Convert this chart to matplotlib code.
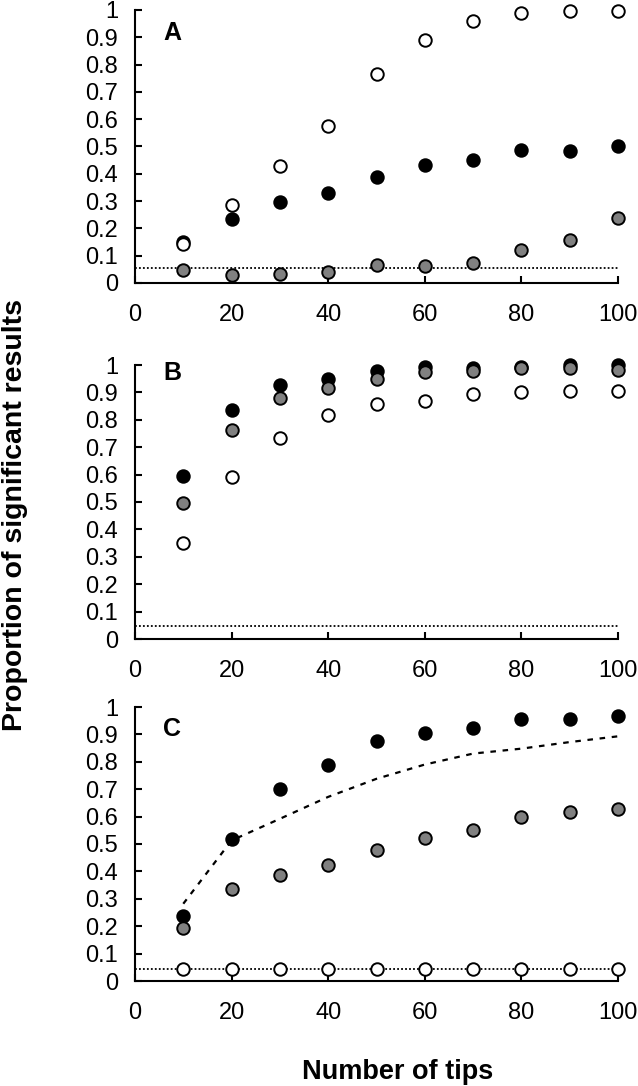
import numpy as np
import matplotlib.pyplot as plt

plt.rcParams['font.family'] = ['Liberation Sans', 'DejaVu Sans']

tips = [10, 20, 30, 40, 50, 60, 70, 80, 90, 100]

# panel A
a_black = [0.152, 0.234, 0.296, 0.329, 0.387, 0.433, 0.449, 0.488, 0.485, 0.500]
a_gray = [0.049, 0.030, 0.033, 0.040, 0.065, 0.061, 0.073, 0.122, 0.159, 0.238]
a_open = [0.143, 0.287, 0.427, 0.576, 0.765, 0.890, 0.960, 0.988, 0.998, 0.998]
a_alpha = 0.054

# panel B
b_black = [0.595, 0.836, 0.927, 0.948, 0.978, 0.992, 0.990, 0.994, 1.000, 1.000]
b_gray = [0.498, 0.763, 0.881, 0.915, 0.948, 0.976, 0.979, 0.990, 0.990, 0.982]
b_open = [0.352, 0.590, 0.733, 0.817, 0.858, 0.870, 0.894, 0.900, 0.905, 0.905]
b_alpha = 0.048

# panel C
c_black = [0.237, 0.520, 0.700, 0.790, 0.876, 0.905, 0.925, 0.955, 0.957, 0.967]
c_gray = [0.195, 0.337, 0.388, 0.423, 0.477, 0.523, 0.550, 0.599, 0.617, 0.628]
c_open = [0.045, 0.045, 0.045, 0.045, 0.045, 0.045, 0.045, 0.045, 0.045, 0.045]
c_curve = [0.282, 0.513, 0.592, 0.672, 0.738, 0.790, 0.830, 0.848, 0.872, 0.893]
c_alpha = 0.045

panels = [
    ('A', a_black, a_gray, a_open, a_alpha, None, 0.916),
    ('B', b_black, b_gray, b_open, b_alpha, None, 0.97),
    ('C', c_black, c_gray, c_open, c_alpha, c_curve, 0.92),
]

fig = plt.figure(figsize=(6.38, 10.86), dpi=100)

left = 135 / 638
width = (618 - 135) / 638
tops = [10, 365, 707]
bottoms = [283, 639, 981]

ms = 9
mew = 1.4

for i, (lab, blk, gry, opn, alpha, curve, ly) in enumerate(panels):
    b = 1 - bottoms[i] / 1086
    h = (bottoms[i] - tops[i]) / 1086
    ax = fig.add_axes([left, b, width, h])

    ax.plot([0, 100], [alpha, alpha], color='black', lw=1.3, ls=(0, (1, 1.2)), zorder=1)
    if curve is not None:
        ax.plot(tips, curve, color='black', lw=1.6, ls=(0, (2.5, 3)), zorder=1)

    ax.plot(tips, blk, 'o', ms=ms, mfc='black', mec='black', mew=mew, clip_on=False, zorder=3)
    ax.plot(tips, gry, 'o', ms=ms, mfc='#808080', mec='black', mew=mew, clip_on=False, zorder=4)
    ax.plot(tips, opn, 'o', ms=ms, mfc='white', mec='black', mew=mew, clip_on=False, zorder=5)

    ax.set_xlim(0, 100)
    ax.set_ylim(0, 1)
    ax.set_xticks(np.arange(0, 101, 20))
    ax.set_yticks(np.arange(0, 1.01, 0.1))
    ax.set_yticklabels(['0'] + ['%.1f' % v for v in np.arange(0.1, 0.95, 0.1)] + ['1'])

    for s in ['top', 'right']:
        ax.spines[s].set_visible(False)
    for s in ['left', 'bottom']:
        ax.spines[s].set_linewidth(1.5)

    ax.tick_params(axis='both', direction='in', length=5, width=1.5, labelsize=17)
    ax.tick_params(axis='y', pad=12)
    ax.tick_params(axis='x', pad=15)

    ax.text(0.058, ly, lab, transform=ax.transAxes, fontsize=18, fontweight='bold',
            ha='left', va='center')

fig.text(15 / 638, 1 - 515 / 1086, 'Proportion of significant results', rotation=90,
         fontsize=20.5, fontweight='bold', ha='center', va='center')
fig.text(398 / 638, 1 - 1072 / 1086, 'Number of tips', fontsize=19.5, fontweight='bold',
         ha='center', va='center')

fig.savefig('out.png', dpi=100)
